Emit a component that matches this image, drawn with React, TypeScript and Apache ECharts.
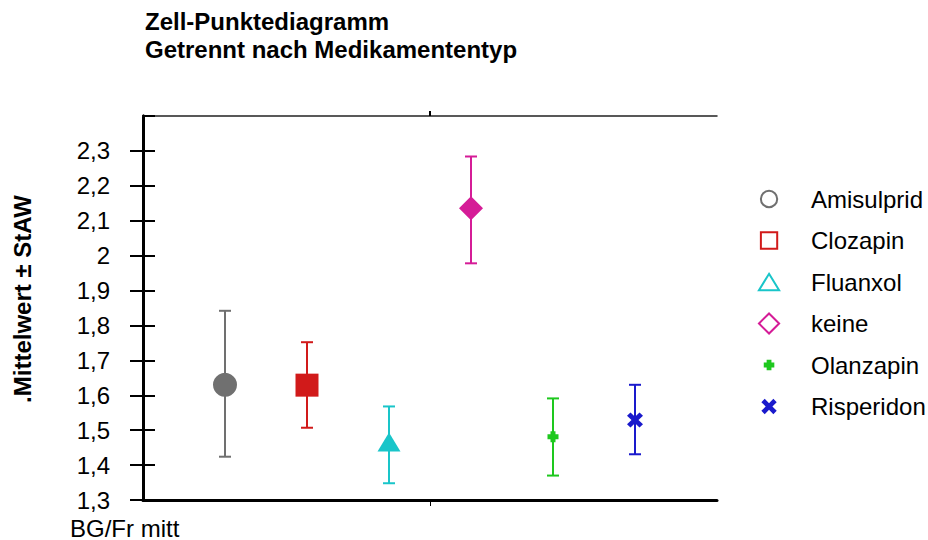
import React, { useEffect, useRef } from "react";
import * as echarts from "echarts";

const drugs = ["Amisulprid", "Clozapin", "Fluanxol", "keine", "Olanzapin", "Risperidon"];
const positions = [1, 2, 3, 4, 5, 6];
const means = [1.63, 1.629, 1.466, 2.136, 1.481, 1.529];
const lows = [1.424, 1.507, 1.348, 1.978, 1.37, 1.431];
const highs = [1.842, 1.752, 1.568, 2.284, 1.591, 1.63];
const colors = ["#707070", "#d11a1a", "#19c5c9", "#d51c97", "#1ec81e", "#1a1acc"];
const categoryLabel = "BG/Fr mitt";
const yMin = 1.3;
const yMax = 2.4;

const FONT = "'Liberation Sans', Arial, Helvetica, sans-serif";

const plotSymbols = [
  "circle",
  "rect",
  "triangle",
  "diamond",
  "path://M3,0H8V3H11V8H8V11H3V8H0V3H3Z",
  "path://M0,3.5L3.5,0L8,4.5L12.5,0L16,3.5L11.5,8L16,12.5L12.5,16L8,11.5L3.5,16L0,12.5L4.5,8Z",
];
const plotSizes: any[] = [24, 23, [23, 19], 24, 11, [16, 15]];

const B = "M0,0M50,22";
const legendIcons = [
  `path://${B}M3,11A8.5,8.5 0 1 1 20,11A8.5,8.5 0 1 1 3,11Z`,
  `path://${B}M3,2.5H20V19.5H3Z`,
  `path://${B}M11.5,2.5L22,19.5H1Z`,
  `path://${B}M11.5,0.5L22,11L11.5,21.5L1,11Z`,
  `path://${B}M9,5.5H14V8.5H17V13.5H14V16.5H9V13.5H6V8.5H9Z`,
  `path://${B}M3.5,6.5L7,3L11.5,7.5L16,3L19.5,6.5L15,11L19.5,15.5L16,19L11.5,14.5L7,19L3.5,15.5L8,11Z`,
];
const legendHollow = [true, true, true, true, false, false];

export default function App() {
  const ref = useRef<HTMLDivElement>(null);
  useEffect(() => {
    if (!ref.current) return;
    const chart = echarts.init(ref.current, null, { renderer: "svg" });

    const scatterSeries = drugs.map((name, i) => ({
      name,
      type: "scatter",
      data: [[positions[i], means[i]]],
      symbol: plotSymbols[i],
      symbolSize: plotSizes[i],
      itemStyle: { color: colors[i], opacity: 1 },
      z: 5,
      silent: true,
      emphasis: { disabled: true },
    }));

    const errorData = drugs.map((_, i) => [positions[i], lows[i], highs[i]]);

    const option: any = {
      animation: false,
      textStyle: { fontFamily: FONT },
      title: {
        text: "Zell-Punktediagramm\nGetrennt nach Medikamententyp",
        left: 145,
        top: 7,
        padding: 0,
        textStyle: {
          fontFamily: FONT,
          fontSize: 24,
          fontWeight: "bold",
          color: "#000",
          lineHeight: 28,
        },
      },
      legend: {
        orient: "vertical",
        left: 757,
        top: 187,
        padding: 0,
        itemWidth: 48,
        itemHeight: 22,
        itemGap: 17.5,
        selectedMode: false,
        textStyle: { fontFamily: FONT, fontSize: 24, color: "#000" },
        data: drugs.map((name, i) => ({
          name,
          icon: legendIcons[i],
          itemStyle: legendHollow[i]
            ? { color: "rgba(0,0,0,0)", borderColor: colors[i], borderWidth: 2 }
            : { color: colors[i], borderWidth: 0 },
        })),
      },
      grid: { left: 143, right: 211, top: 116, bottom: 40, containLabel: false },
      xAxis: [
        {
          type: "value",
          position: "bottom",
          min: 0,
          max: 7,
          interval: 3.5,
          axisLine: { show: true, lineStyle: { color: "#000", width: 3 } },
          axisTick: { show: true, customValues: [3.5], length: 6, inside: false, lineStyle: { color: "#000", width: 1 } },
          axisLabel: { show: false },
          splitLine: { show: false },
        },
        {
          type: "value",
          position: "top",
          min: 0,
          max: 7,
          interval: 3.5,
          axisLine: { show: true, lineStyle: { color: "#222", width: 1.5 } },
          axisTick: { show: true, customValues: [3.5], length: 5, inside: false, lineStyle: { color: "#000", width: 2 } },
          axisLabel: { show: false },
          splitLine: { show: false },
        },
      ],
      yAxis: [
        {
          type: "value",
          position: "left",
          min: yMin,
          max: yMax,
          interval: 0.1,
          name: ".Mittelwert ± StAW",
          nameLocation: "middle",
          nameGap: 109,
          nameTextStyle: {
            fontFamily: FONT,
            fontSize: 24,
            fontWeight: "bold",
            color: "#000",
            padding: [0, 0, 0, 18],
          },
          axisLine: { show: true, lineStyle: { color: "#000", width: 3 } },
          axisTick: { show: true, length: 13, inside: false, lineStyle: { color: "#000", width: 2 } },
          axisLabel: {
            show: true,
            margin: 33,
            showMaxLabel: false,
            fontFamily: FONT,
            fontSize: 24,
            color: "#000",
            formatter: (v: number) => {
              const r = Math.round(v * 10) / 10;
              if (r >= yMax) return "";
              return String(r).replace(".", ",");
            },
          },
          splitLine: { show: false },
        },
        {
          type: "value",
          position: "right",
          min: yMin,
          max: yMax,
          interval: 0.1,
          axisLine: { show: true, lineStyle: { color: "#000", width: 3 } },
          axisTick: { show: true, length: 12, inside: false, lineStyle: { color: "#000", width: 2 } },
          axisLabel: { show: false },
          splitLine: { show: false },
        },
      ],
      graphic: [
        {
          type: "text",
          left: 70,
          top: 516,
          style: { text: categoryLabel, fontFamily: FONT, fontSize: 24, fill: "#000" },
        },
      ],
      series: [
        {
          name: "errors",
          type: "custom",
          xAxisIndex: 0,
          yAxisIndex: 0,
          silent: true,
          z: 3,
          data: errorData,
          encode: { x: 0, y: [1, 2] },
          renderItem: (params: any, api: any) => {
            const x = api.value(0);
            const lo = api.coord([x, api.value(1)]);
            const hi = api.coord([x, api.value(2)]);
            const c = colors[params.dataIndex];
            const hw = 6;
            const style = { stroke: c, lineWidth: 2, fill: "none" };
            return {
              type: "group",
              children: [
                { type: "line", shape: { x1: hi[0], y1: hi[1], x2: lo[0], y2: lo[1] }, style },
                { type: "line", shape: { x1: hi[0] - hw, y1: hi[1], x2: hi[0] + hw, y2: hi[1] }, style },
                { type: "line", shape: { x1: lo[0] - hw, y1: lo[1], x2: lo[0] + hw, y2: lo[1] }, style },
              ],
            };
          },
        },
        ...scatterSeries,
      ],
    };

    chart.setOption(option);
    return () => chart.dispose();
  }, []);

  return (
    <div
      ref={ref}
      style={{ position: "absolute", left: 0, top: 0, width: 928, height: 540, background: "#fff" }}
    />
  );
}
